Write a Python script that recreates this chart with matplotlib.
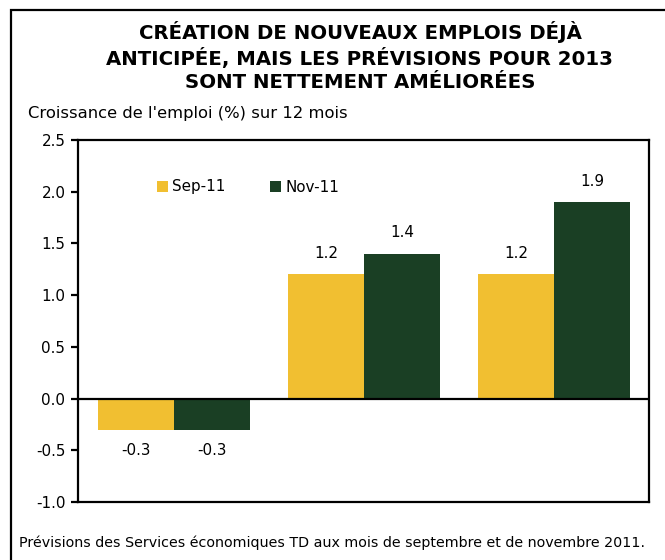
import numpy as np
import matplotlib
matplotlib.use("Agg")
import matplotlib.pyplot as plt
from matplotlib.patches import Rectangle

plt.rcParams['font.family'] = ['DejaVu Sans']

# data
categories = ['2011', '2012', '2013']
sep11 = [-0.3, 1.2, 1.2]
nov11 = [-0.3, 1.4, 1.9]
series_names = ['Sep-11', 'Nov-11']
yticks = [-1.0, -0.5, 0.0, 0.5, 1.0, 1.5, 2.0, 2.5]
title_lines = ['CRÉATION DE NOUVEAUX EMPLOIS DÉJÀ',
               'ANTICIPÉE, MAIS LES PRÉVISIONS POUR 2013',
               'SONT NETTEMENT AMÉLIORÉES']

yellow = '#F1BF31'
green = '#1A3F24'

fig = plt.figure(figsize=(6.65, 5.6), dpi=100)
ax = fig.add_axes([78/665, 1-502/560, (649-78)/665, (502-140)/560])

x = np.arange(len(categories))
w = 0.4
b1 = ax.bar(x - w/2, sep11, w, color=yellow, label=series_names[0])
b2 = ax.bar(x + w/2, nov11, w, color=green, label=series_names[1])

for bars, vals in ((b1, sep11), (b2, nov11)):
    for r, v in zip(bars, vals):
        cx = r.get_x() + r.get_width()/2
        off = 21 if v >= 0 else -21
        ax.annotate('%.1f' % v, (cx, v), xytext=(0, off), textcoords='offset pixels',
                    ha='center', va='center', fontsize=10.9)

ax.axhline(0, color='black', lw=1.6, zorder=3)
ax.set_xlim(-0.505, 2.5)
ax.set_ylim(-1.0, 2.5)
ax.set_yticks(yticks)
ax.set_yticklabels(['%.1f' % t for t in yticks], fontsize=10.9)
ax.set_xticks([])
for s in ax.spines.values():
    s.set_linewidth(1.6)
ax.tick_params(axis='y', length=5, width=1.6, pad=4)

ax.legend(loc='center left', bbox_to_anchor=(79/571, (502-187)/362), ncol=2, frameon=False,
          fontsize=10.9, handlelength=0.7, handleheight=0.7, handletextpad=0.3,
          columnspacing=2.95, borderaxespad=0, borderpad=0)

for i, line in enumerate(title_lines):
    fig.text(360/665, 1-[32, 58, 83][i]/560, line, ha='center', va='center',
             fontsize=14.2, fontweight='bold')
fig.text(28/665, 1-114/560, "Croissance de l'emploi (%) sur 12 mois", ha='left', va='center', fontsize=11.8)
fig.text(19/665, 1-543/560, 'Prévisions des Services économiques TD aux mois de septembre et de novembre 2011.',
         ha='left', va='center', fontsize=10.3)

fig.patches.append(Rectangle((11/665, -0.1), 1.2, 1.1 - 10/560, transform=fig.transFigure,
                             fill=False, ec='black', lw=1.6, clip_on=False))

fig.savefig('out.png', dpi=100)
